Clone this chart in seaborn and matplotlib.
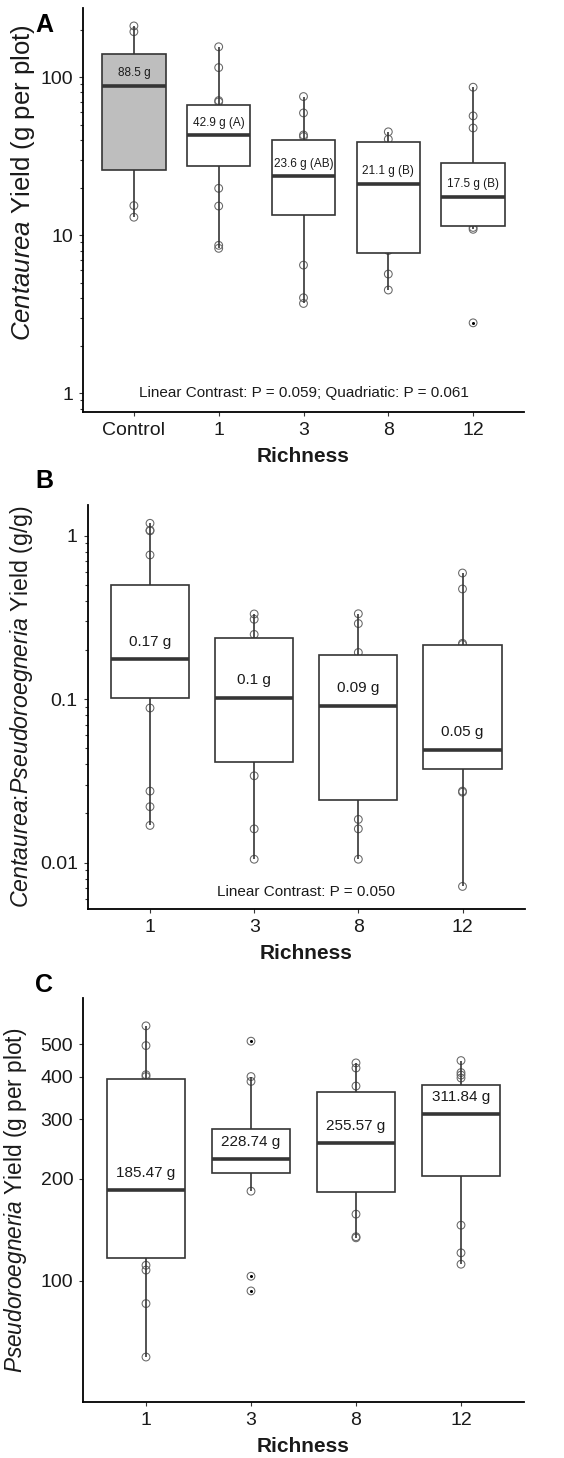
import matplotlib
matplotlib.use("Agg")
import matplotlib.pyplot as plt
import matplotlib.ticker as mticker
import numpy as np
import pandas as pd
import seaborn as sns


sns.set_theme(style="ticks")
plt.rcParams["font.family"] = ["Liberation Sans", "DejaVu Sans"]
plt.rcParams["mathtext.fontset"] = "custom"
plt.rcParams["mathtext.rm"] = "Liberation Sans"
plt.rcParams["mathtext.it"] = "Liberation Sans:italic"

# Panel A: Centaurea yield (box summary)
a_groups = ["Control", "1", "3", "8", "12"]
a_whislo = [13.0, 8.26, 3.70, 4.50, 10.9]
a_q1 = [25.9, 27.3, 13.4, 7.67, 11.5]
a_med = [88.5, 42.9, 23.6, 21.1, 17.5]
a_q3 = [140.6, 66.5, 40.1, 38.8, 28.8]
a_whishi = [211.0, 155.7, 75.4, 45.1, 86.4]
a_points = [
    [211.0, 194.0, 15.4, 13.0],
    [155.7, 115.0, 71.1, 69.8, 19.8, 15.3, 8.63, 8.26],
    [75.4, 59.4, 43.1, 42.1, 6.47, 4.02, 3.70],
    [45.1, 40.5, 8.0, 5.68, 4.50],
    [86.4, 56.9, 47.7, 11.2, 10.9, 2.79],
]
a_outliers = [[], [], [], [], [2.79]]
a_labels = ["88.5 g", "42.9 g (A)", "23.6 g (AB)", "21.1 g (B)", "17.5 g (B)"]
a_fills = ["#bebebe", "white", "white", "white", "white"]

# Panel B: Centaurea:Pseudoroegneria ratio
b_groups = ["1", "3", "8", "12"]
b_whislo = [0.0169, 0.0105, 0.0105, 0.00716]
b_q1 = [0.1016, 0.0415, 0.0242, 0.0374]
b_med = [0.175, 0.102, 0.091, 0.049]
b_q3 = [0.501, 0.2367, 0.186, 0.2134]
b_whishi = [1.19, 0.332, 0.333, 0.591]
b_points = [
    [1.19, 1.08, 1.07, 0.762, 0.0883, 0.0274, 0.0220, 0.0169],
    [0.332, 0.308, 0.249, 0.034, 0.0161, 0.0105],
    [0.333, 0.290, 0.193, 0.0184, 0.0161, 0.0105],
    [0.591, 0.472, 0.2196, 0.216, 0.0274, 0.027, 0.00716],
]
b_outliers = [[], [], [], []]
b_labels = ["0.17 g", "0.1 g", "0.09 g", "0.05 g"]
b_fills = ["white", "white", "white", "white"]

# Panel C: Pseudoroegneria yield
c_groups = ["1", "3", "8", "12"]
c_whislo = [59.6, 184.0, 134.0, 112.0]
c_q1 = [117.2, 208.7, 182.4, 204.0]
c_med = [185.47, 228.74, 255.57, 311.84]
c_q3 = [395.0, 280.6, 362.0, 379.0]
c_whishi = [566.0, 401.0, 440.0, 447.0]
c_points = [
    [566.0, 495.0, 406.0, 401.0, 111.2, 107.6, 85.7, 59.6],
    [510.0, 401.0, 388.0, 184.0, 103.2, 93.4],
    [440.0, 425.0, 376.0, 157.4, 135.0, 134.0],
    [447.0, 412.0, 405.0, 397.0, 146.0, 121.0, 112.0],
]
c_outliers = [[], [510.0, 103.2, 93.4], [], []]
c_labels = ["185.47 g", "228.74 g", "255.57 g", "311.84 g"]
c_fills = ["white", "white", "white", "white"]

LINE = "#353535"
TEXT = "#1a1a1a"


def long_points(groups, values):
    return pd.DataFrame({
        "group": [g for g, vals in zip(groups, values) for _ in vals],
        "value": [v for vals in values for v in vals],
    })


def draw_panel(ax, groups, whislo, q1, med, q3, whishi, points, outliers,
               fills, labels, label_size, label_dy, ylim):
    ax.set_yscale("log")

    # five-number summaries -> seaborn box plot with whiskers at min/max
    box_df = pd.DataFrame({
        "group": np.repeat(groups, 5),
        "value": np.column_stack([whislo, q1, med, q3, whishi]).ravel(),
    })

    n0 = len(ax.collections)
    sns.stripplot(data=long_points(groups, points), x="group", y="value",
                  order=groups, jitter=False, size=5.6, color="white",
                  edgecolor="#666666", linewidth=0.75, ax=ax)
    for coll in ax.collections[n0:]:
        coll.set_facecolor("none")
        coll.set_zorder(1)

    out_df = long_points(groups, outliers)
    if len(out_df):
        sns.stripplot(data=out_df, x="group", y="value", order=groups,
                      jitter=False, size=2.2, color="black", linewidth=0, ax=ax)

    sns.boxplot(data=box_df, x="group", y="value", order=groups, hue="group",
                palette=dict(zip(groups, fills)), legend=False, width=0.75,
                whis=(0, 100), showfliers=False, linecolor=LINE, linewidth=1.2,
                medianprops={"linewidth": 2.6, "color": LINE},
                capprops={"visible": False}, ax=ax)

    for i, (m, lab) in enumerate(zip(med, labels)):
        ax.annotate(lab, xy=(i, m), xytext=(0, label_dy), textcoords="offset points",
                    ha="center", va="center", fontsize=label_size, color=TEXT, zorder=5)

    ax.set_xlim(-0.6, len(groups) - 0.4)
    ax.set_ylim(*ylim)
    ax.yaxis.set_major_formatter(mticker.FuncFormatter(lambda v, _: f"{v:g}"))
    ax.yaxis.set_minor_formatter(mticker.NullFormatter())
    ax.tick_params(axis="both", which="major", length=3, width=0.8, color=LINE,
                   labelsize=14, labelcolor=TEXT, pad=4)
    ax.tick_params(axis="y", which="minor", length=2, width=0.8, color=LINE)
    for side in ["top", "right"]:
        ax.spines[side].set_visible(False)
    for side in ["left", "bottom"]:
        ax.spines[side].set_linewidth(1.3)
        ax.spines[side].set_color("black")
    ax.set_xlabel("Richness", fontsize=15, fontweight="bold", color=TEXT, labelpad=6)


W, H = 564, 1458
fig = plt.figure(figsize=(W / 100, H / 100), dpi=100)


def rect(left, right, top, bottom):
    return [left / W, 1 - bottom / H, (right - left) / W, (bottom - top) / H]


ax_a = fig.add_axes(rect(83, 524, 8, 412))
draw_panel(ax_a, a_groups, a_whislo, a_q1, a_med, a_q3, a_whishi, a_points,
           a_outliers, a_fills, a_labels, 8.5, 9.1, (0.761, 274))
ax_a.yaxis.set_major_locator(mticker.LogLocator(base=10))
ax_a.yaxis.set_minor_locator(mticker.LogLocator(base=10, subs=np.arange(2, 10)))
ax_a.set_ylabel(r"$\mathit{Centaurea}$ Yield (g per plot)", fontsize=18.5, color=TEXT)
ax_a.yaxis.set_label_coords(-0.105, 0.567)
ax_a.text(2, 1.0, "Linear Contrast: P = 0.059; Quadriatic: P = 0.061",
          ha="center", va="center", fontsize=11, color=TEXT)

ax_b = fig.add_axes(rect(87.5, 525, 505, 909))
draw_panel(ax_b, b_groups, b_whislo, b_q1, b_med, b_q3, b_whishi, b_points,
           b_outliers, b_fills, b_labels, 11, 12.7, (0.00521, 1.54))
ax_b.yaxis.set_major_locator(mticker.LogLocator(base=10))
ax_b.yaxis.set_minor_locator(mticker.LogLocator(base=10, subs=np.arange(2, 10)))
ax_b.set_ylabel(r"$\mathit{Centaurea}$:$\mathit{Pseudoroegneria}$ Yield (g/g)",
                fontsize=16.7, color=TEXT)
ax_b.yaxis.set_label_coords(-0.12, 0.5)
ax_b.text(1.5, 0.00665, "Linear Contrast: P = 0.050",
          ha="center", va="center", fontsize=11, color=TEXT)

ax_c = fig.add_axes(rect(83, 524, 998, 1402))
draw_panel(ax_c, c_groups, c_whislo, c_q1, c_med, c_q3, c_whishi, c_points,
           c_outliers, c_fills, c_labels, 11, 12.2, (43.9, 684))
ax_c.yaxis.set_major_locator(mticker.FixedLocator([100, 200, 300, 400, 500]))
ax_c.yaxis.set_minor_locator(mticker.NullLocator())
ax_c.set_ylabel(r"$\mathit{Pseudoroegneria}$ Yield (g per plot)", fontsize=16.3, color=TEXT)
ax_c.yaxis.set_label_coords(-0.123, 0.5)

for letter, x, y in [("A", 44, 31.5), ("B", 44, 488), ("C", 44, 992)]:
    fig.text(x / W, 1 - y / H, letter, ha="center", va="baseline",
             fontsize=18, fontweight="bold", color="black")

fig.savefig("out.png", dpi=100)
